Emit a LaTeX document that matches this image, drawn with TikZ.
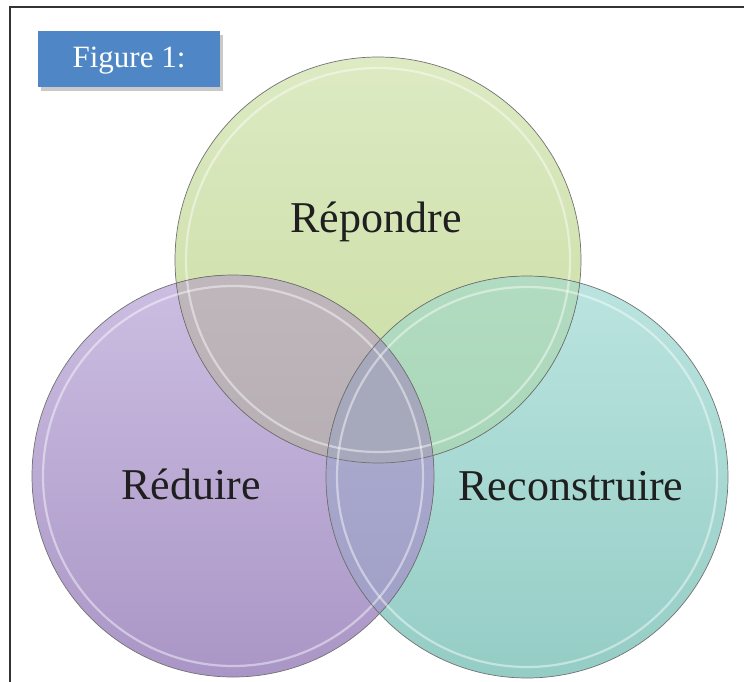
\documentclass[tikz,border=0pt]{standalone}
\usepackage{fontspec}
\setmainfont{Liberation Serif}
\usetikzlibrary{shadows}
\definecolor{gtop}{HTML}{DDEAC3}
\definecolor{gbot}{HTML}{C8DCA0}
\definecolor{ptop}{HTML}{CCBEE2}
\definecolor{pbot}{HTML}{AA96C6}
\definecolor{ttop}{HTML}{BBE4E0}
\definecolor{tbot}{HTML}{94CDC5}
\definecolor{gptop}{HTML}{BFB7BC}
\definecolor{gpbot}{HTML}{ACA5A8}
\definecolor{gttop}{HTML}{B2DCC1}
\definecolor{gtbot}{HTML}{9ECFAF}
\definecolor{pttop}{HTML}{B0B0D2}
\definecolor{ptbot}{HTML}{9E9DC6}
\definecolor{triple}{HTML}{A6A8BC}
\definecolor{figblue}{HTML}{4F87C6}
\definecolor{frameline}{HTML}{333333}
\tikzset{
  circ/.style={circle, minimum size=#1, inner sep=0pt},
  outl/.style={draw=black!55, line width=0.7pt},
  rimline/.style={draw=white, draw opacity=0.45, line width=2.2pt},
  lbl/.style={anchor=base, font=\fontsize{44}{50}\selectfont, text=black!88},
  figbox/.style={rectangle, fill=figblue, minimum width=182pt, minimum height=56pt, inner sep=0pt,
     drop shadow={shadow xshift=3pt, shadow yshift=-4pt, opacity=0.35, fill=black!60}},
}
\begin{document}
\begin{tikzpicture}[x=1pt,y=-1pt]
\useasboundingbox (0,0) rectangle (744,682);
\fill[white] (0,0) rectangle (744,682);
% frame
\draw[frameline, line width=2.5pt] (10,682) -- (10,7) -- (744,7);
% centres
\coordinate (gc) at (378,260);
\coordinate (pc) at (233,476);
\coordinate (tc) at (527,477);
% circles
\node[circ=406pt, top color=gtop, bottom color=gbot] (g) at (gc) {};
\node[circ=402pt, top color=ptop, bottom color=pbot] (p) at (pc) {};
\node[circ=402pt, top color=ttop, bottom color=tbot] (t) at (tc) {};
% overlaps
\begin{scope}
  \clip (gc) circle[radius=203];
  \fill[top color=gptop, bottom color=gpbot] (pc) circle[radius=201];
\end{scope}
\begin{scope}
  \clip (gc) circle[radius=203];
  \fill[top color=gttop, bottom color=gtbot] (tc) circle[radius=201];
\end{scope}
\begin{scope}
  \clip (pc) circle[radius=201];
  \fill[top color=pttop, bottom color=ptbot] (tc) circle[radius=201];
\end{scope}
\begin{scope}
  \clip (gc) circle[radius=203];
  \clip (pc) circle[radius=201];
  \fill[triple] (tc) circle[radius=201];
\end{scope}
% outlines and rims
\draw[outl] (gc) circle[radius=203];
\draw[rimline] (gc) circle[radius=192];
\draw[outl] (pc) circle[radius=201];
\draw[rimline] (pc) circle[radius=190];
\draw[outl] (tc) circle[radius=201];
\draw[rimline] (tc) circle[radius=190];
% labels
\node[lbl] (l1) at (376,232) {Répondre};
\node[lbl] (l2) at (191,499) {Réduire};
\node[lbl] (l3) at (571,500) {Reconstruire};
% figure box
\node[figbox] (fb) at (129,59) {};
\node[anchor=base, text=white, font=\fontsize{31}{36}\selectfont] (ft) at (129,68) {Figure 1:};
\end{tikzpicture}
\end{document}
